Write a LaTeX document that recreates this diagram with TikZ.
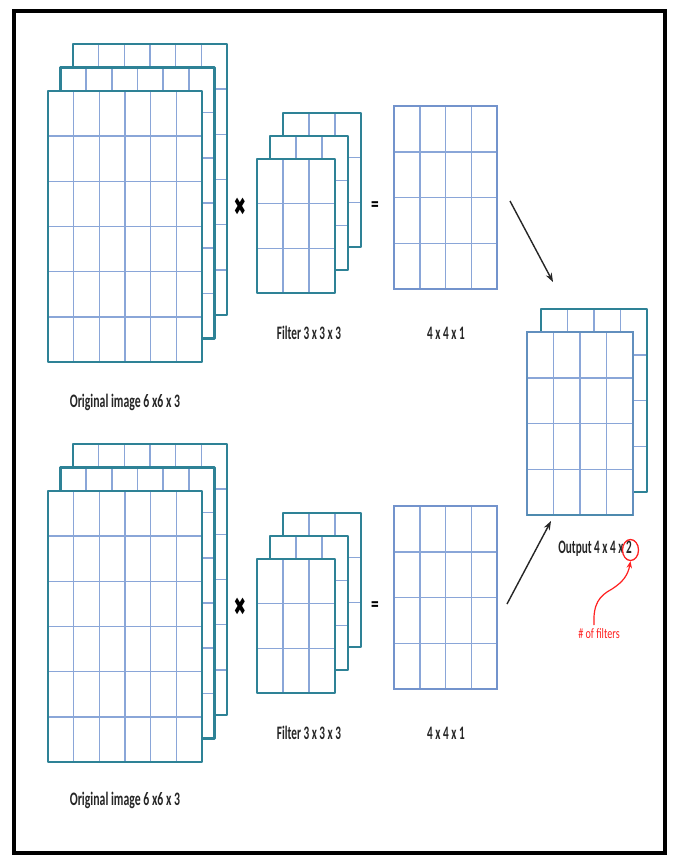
\documentclass[tikz,border=0pt]{standalone}
\usepackage{fontspec}
\setmainfont{Carlito}
\newfontfamily\symfont{DejaVu Sans}
\usetikzlibrary{arrows.meta,shapes.geometric}
\definecolor{tealb}{HTML}{2E8296}
\definecolor{gridb}{HTML}{8AA6D8}
\definecolor{gridd}{HTML}{7393CC}
\definecolor{txt}{HTML}{262626}
\definecolor{redann}{HTML}{FF2020}
\tikzset{
  gline/.style={draw=gridb, line width=1.5pt},
  tborder/.style={draw=tealb, line width=2.8pt, line join=round},
  bborder/.style={draw=gridd, line width=1.6pt},
  oborder/.style={draw=gridd!75!tealb, line width=2.2pt},
  lbl/.style={font=\fontsize{17}{19}\selectfont\bfseries, text=txt, inner sep=0pt, xscale=0.66, yscale=1.12},
  conn/.style={draw=txt, line width=1.4pt, -{Stealth[length=9pt,width=6.5pt]}},
}
% #1 x, #2 y, #3 w, #4 h, #5 cols, #6 rows, #7 border style
\newcommand\glayer[7]{%
  \fill[white] (#1,#2) rectangle ++(#3,#4);
  \pgfmathsetmacro\gcw{#3/#5}%
  \pgfmathsetmacro\grh{#4/#6}%
  \pgfmathtruncatemacro\gcm{#5-1}%
  \pgfmathtruncatemacro\grm{#6-1}%
  \foreach \k in {1,...,\gcm}{\draw[gline] ({#1+\k*\gcw},#2) -- ++(0,#4);}%
  \foreach \k in {1,...,\grm}{\draw[gline] (#1,{#2+\k*\grh}) -- ++(#3,0);}%
  \draw[#7] (#1,#2) rectangle ++(#3,#4);%
}
\begin{document}
\begin{tikzpicture}[x=1pt,y=-1pt]
\useasboundingbox (0,0) rectangle (673,857);
\fill[white] (0,0) rectangle (673,857);
\draw[line width=4pt] (14,11) rectangle (665,853);

% ---- top row ----
\glayer{73}{44}{154}{271}{6}{6}{tborder}
\glayer{60.5}{67.5}{154}{271}{6}{6}{tborder}
\glayer{48}{91}{154}{271}{6}{6}{tborder}

\glayer{283}{113}{78}{134}{3}{3}{tborder}
\glayer{270}{136}{78}{134}{3}{3}{tborder}
\glayer{257}{159}{78}{134}{3}{3}{tborder}

\glayer{394}{106}{103}{183}{4}{4}{bborder}

\node[font=\symfont\fontsize{20}{20}\selectfont, xscale=0.75, yscale=1.25, inner sep=0pt] (x1) at (240,207) {✖};
\node[font=\fontsize{22}{22}\selectfont\bfseries, inner sep=0pt, xscale=0.7] (e1) at (375,207) {=};

\node[lbl, xscale=1.05] (lo1) at (125,402) {Original image 6 x6 x 3};
\node[lbl] (lf1) at (309,333) {Filter 3 x 3 x 3};
\node[lbl] (lr1) at (446,333) {4 x 4 x 1};

% ---- bottom row ----
\glayer{73}{444}{154}{271}{6}{6}{tborder}
\glayer{60.5}{467.5}{154}{271}{6}{6}{tborder}
\glayer{48}{491}{154}{271}{6}{6}{tborder}

\glayer{283}{513}{78}{134}{3}{3}{tborder}
\glayer{270}{536}{78}{134}{3}{3}{tborder}
\glayer{257}{559}{78}{134}{3}{3}{tborder}

\glayer{394}{506}{103}{183}{4}{4}{bborder}

\node[font=\symfont\fontsize{20}{20}\selectfont, xscale=0.75, yscale=1.25, inner sep=0pt] (x2) at (240,607) {✖};
\node[font=\fontsize{22}{22}\selectfont\bfseries, inner sep=0pt, xscale=0.7] (e2) at (375,607) {=};

\node[lbl, xscale=1.05] (lo2) at (125,800) {Original image 6 x6 x 3};
\node[lbl] (lf2) at (309,733) {Filter 3 x 3 x 3};
\node[lbl] (lr2) at (446,733) {4 x 4 x 1};

% ---- output ----
\glayer{541}{309}{106}{183}{4}{4}{tborder}
\glayer{527}{332}{106}{183}{4}{4}{oborder}
\draw[tealb!55!gridd, line width=2.6pt] (527,515) -- (633,515);

\node[lbl] (lout) at (595,549) {Output 4 x 4 x 2};
\node[draw=redann, line width=1.3pt, ellipse, minimum width=16pt, minimum height=21pt, inner sep=0pt] (two) at (630.5,550) {};
\node[font=\fontsize{13}{15}\selectfont, text=redann, inner sep=0pt, xscale=0.78, yscale=1.1] (nf) at (599,634) {\# of filters};

% ---- connectors ----
\coordinate (a1s) at (510,201);
\coordinate (a1e) at (553,282);
\coordinate (a2s) at (507,604);
\coordinate (a2e) at (551,521);
\draw[conn] (a1s) -- (a1e);
\draw[conn] (a2s) -- (a2e);

\coordinate (rs) at (594,625);
\draw[redann, line width=1.2pt, -{Stealth[length=7pt,width=5.5pt]}] (rs)
  .. controls (593,604) and (599,596) .. (612,589)
  .. controls (623,582) and (628,575) .. (two.south);
\end{tikzpicture}
\end{document}
